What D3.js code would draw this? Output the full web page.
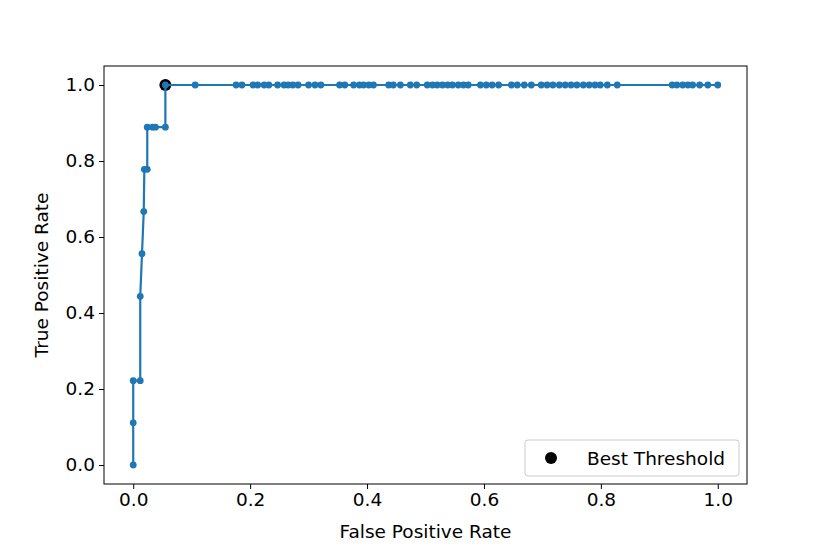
<!DOCTYPE html>
<html>
<head>
<meta charset="UTF-8">
<script src="https://d3js.org/d3.v7.min.js"></script>
<style>
  body { margin: 0; background: #fff; }
  svg { font-family: 'DejaVu Sans', sans-serif; }
</style>
</head>
<body>
<div id="chart"></div>
<script>
// ROC curve points (False Positive Rate, True Positive Rate)
const fpr = [0, 0, 0, 0.012, 0.012, 0.015, 0.018, 0.019, 0.024, 0.024, 0.033, 0.038, 0.055, 0.055,
  0.106, 0.176, 0.186, 0.205, 0.213, 0.224, 0.232, 0.247, 0.258, 0.265, 0.273, 0.282,
  0.300, 0.311, 0.321, 0.353, 0.362, 0.377, 0.387, 0.394, 0.403, 0.411, 0.437, 0.445,
  0.457, 0.474, 0.485, 0.503, 0.512, 0.520, 0.529, 0.538, 0.546, 0.556, 0.565, 0.573,
  0.594, 0.604, 0.614, 0.625, 0.647, 0.657, 0.669, 0.681, 0.698, 0.708, 0.718, 0.729,
  0.739, 0.749, 0.759, 0.770, 0.780, 0.790, 0.799, 0.811, 0.828, 0.922, 0.930, 0.940,
  0.949, 0.957, 0.969, 0.983, 1.000];
const tpr = [0, 0.111, 0.222, 0.222, 0.444, 0.556, 0.667, 0.778, 0.778, 0.889, 0.889, 0.889, 0.889, 1.0]
  .concat(new Array(fpr.length - 14).fill(1.0));

const best = [0.055, 1.0];
const xTicks = [0, 0.2, 0.4, 0.6, 0.8, 1.0];
const yTicks = [0, 0.2, 0.4, 0.6, 0.8, 1.0];

const width = 830, height = 554;
const margin = { left: 104, right: 83, top: 66, bottom: 70 };
const fs = 18.5;

const svg = d3.select("#chart").append("svg")
  .attr("width", width)
  .attr("height", height);

const x = d3.scaleLinear().domain([-0.05, 1.05]).range([margin.left, width - margin.right]);
const y = d3.scaleLinear().domain([-0.05, 1.05]).range([height - margin.bottom, margin.top]);

// Axes
const xAxis = svg.append("g")
  .attr("transform", `translate(0,${height - margin.bottom})`)
  .call(d3.axisBottom(x).tickValues(xTicks).tickFormat(d3.format(".1f")).tickSize(5).tickPadding(4));
const yAxis = svg.append("g")
  .attr("transform", `translate(${margin.left},0)`)
  .call(d3.axisLeft(y).tickValues(yTicks).tickFormat(d3.format(".1f")).tickSize(5).tickPadding(4));

[xAxis, yAxis].forEach(a => {
  a.select(".domain").remove();
  a.selectAll("text").attr("font-size", fs).attr("fill", "#000").attr("font-family", "'DejaVu Sans', sans-serif");
  a.selectAll("line").attr("stroke", "#000").attr("stroke-width", 1);
});

// Frame
svg.append("rect")
  .attr("x", margin.left)
  .attr("y", margin.top)
  .attr("width", width - margin.left - margin.right)
  .attr("height", height - margin.top - margin.bottom)
  .attr("fill", "none")
  .attr("stroke", "#000")
  .attr("stroke-width", 1);

// Best threshold marker (drawn under the curve)
svg.append("circle")
  .attr("cx", x(best[0]))
  .attr("cy", y(best[1]))
  .attr("r", 6)
  .attr("fill", "#000");

const pts = fpr.map((f, i) => [f, tpr[i]]);

svg.append("path")
  .datum(pts)
  .attr("fill", "none")
  .attr("stroke", "#1f77b4")
  .attr("stroke-width", 2.2)
  .attr("d", d3.line().x(d => x(d[0])).y(d => y(d[1])));

svg.selectAll("circle.pt")
  .data(pts)
  .enter()
  .append("circle")
  .attr("class", "pt")
  .attr("cx", d => x(d[0]))
  .attr("cy", d => y(d[1]))
  .attr("r", 3.4)
  .attr("fill", "#1f77b4");

// Axis labels
svg.append("text")
  .attr("x", (margin.left + width - margin.right) / 2)
  .attr("y", 538)
  .attr("text-anchor", "middle")
  .attr("font-size", fs)
  .text("False Positive Rate");

svg.append("text")
  .attr("transform", `translate(48,${(margin.top + height - margin.bottom) / 2}) rotate(-90)`)
  .attr("text-anchor", "middle")
  .attr("font-size", fs)
  .text("True Positive Rate");

// Legend
const lg = svg.append("g");
lg.append("rect")
  .attr("x", 525).attr("y", 440)
  .attr("width", 214).attr("height", 36)
  .attr("rx", 3)
  .attr("fill", "#fff")
  .attr("stroke", "#ccc")
  .attr("stroke-width", 1);
lg.append("circle")
  .attr("cx", 551).attr("cy", 458)
  .attr("r", 6)
  .attr("fill", "#000");
lg.append("text")
  .attr("x", 587).attr("y", 464.5)
  .attr("font-size", fs)
  .text("Best Threshold");
</script>
</body>
</html>
